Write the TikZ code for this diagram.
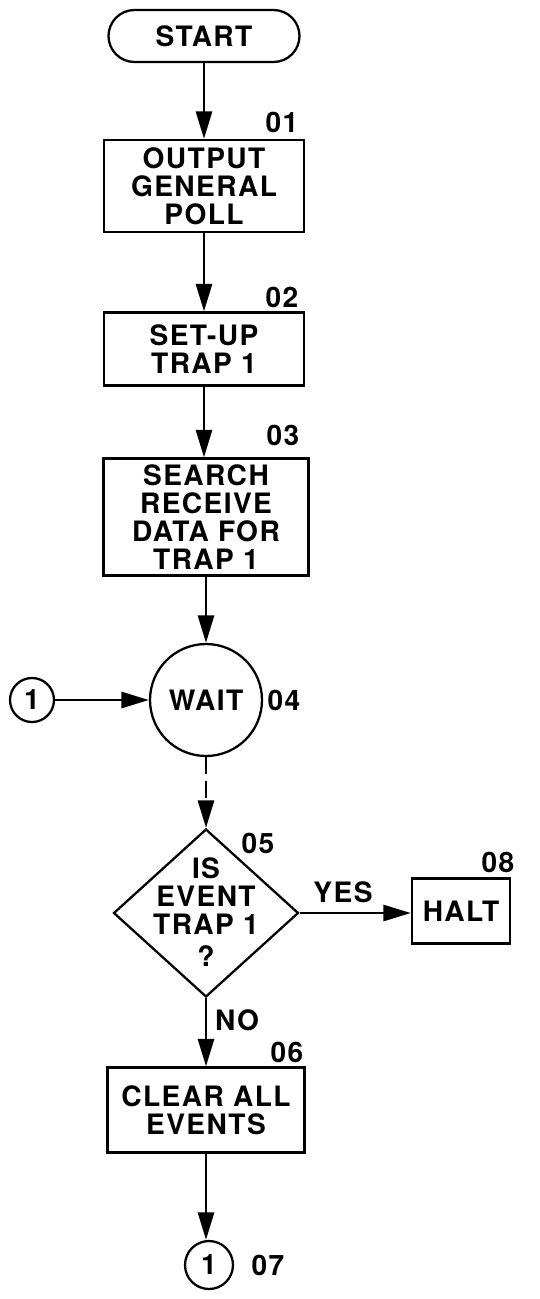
\documentclass[tikz,border=0pt]{standalone}
\usepackage{fontspec}
\setmainfont{TeX Gyre Heros}[LetterSpace=5]
\usepackage{tikz}
\usetikzlibrary{arrows.meta,positioning,shapes.geometric,shapes.misc}
\tikzset{
	chart/.style={font=\bfseries\fontsize{16}{16}\selectfont,text=black},
	procbox/.style={chart,draw,line width=1.3pt,rectangle,align=center,inner sep=0pt},
	termbox/.style={chart,draw,line width=1.3pt,rounded rectangle,inner sep=0pt},
	joinpt/.style={chart,draw,line width=1.3pt,circle,inner sep=0pt},
	decision/.style={draw,line width=1.3pt,diamond,inner sep=0pt},
	stepno/.style={chart,inner sep=0pt},
	flow/.style={line width=1.6pt,-{Triangle[length=0.55cm,width=0.32cm]}}
}
\begin{document}
\begin{tikzpicture}[x=0.02cm,y=-0.02cm]
	\useasboundingbox (0,0) rectangle (539,1299);
	\node[termbox,minimum width=3.82cm,minimum height=1.04cm] (start) at (204,36) {START};
	\node[procbox,minimum width=4cm,minimum height=1.84cm] (p01) at (204,186) {OUTPUT\\GENERAL\\POLL};
	\node[procbox,minimum width=4cm,minimum height=1.46cm] (p02) at (204,349) {SET-UP\\TRAP 1};
	\node[procbox,minimum width=4.1cm,minimum height=2.34cm] (p03) at (206,517) {SEARCH\\RECEIVE\\DATA FOR\\TRAP 1};
	\node[joinpt,minimum size=2.24cm] (wait) at (206,700) {WAIT};
	\node[joinpt,minimum size=0.88cm] (c1) at (32,700) {1};
	\node[decision,minimum width=3.7cm,minimum height=3.36cm] (dec) at (206,913) {};
	\node[chart,align=center] (dectext) at (206,912) {IS\\EVENT\\TRAP 1\\[2pt]?};
	\node[procbox,minimum width=1.96cm,minimum height=1.3cm] (halt) at (461,911) {HALT};
	\node[procbox,minimum width=3.94cm,minimum height=1.7cm] (p06) at (206,1110) {CLEAR ALL\\EVENTS};
	\node[joinpt,minimum size=0.96cm] (c7) at (209,1265) {1};

	\node[stepno] (n01) at (282,122) {01};
	\node[stepno] (n02) at (282,297) {02};
	\node[stepno] (n03) at (283,435) {03};
	\node[stepno] (n04) at (284,700) {04};
	\node[stepno] (n05) at (258,843) {05};
	\node[stepno] (n08) at (498,862) {08};
	\node[stepno] (n06) at (287,1052) {06};
	\node[stepno] (n07) at (268,1265) {07};
	\node[stepno] (yes) at (343,892) {YES};
	\node[stepno] (no) at (237,1020) {NO};

	\draw[flow] (start.south) -- (start.south |- p01.north);
	\draw[flow] (p01.south) -- (p01.south |- p02.north);
	\draw[flow] (p02.south) -- (p02.south |- p03.north);
	\draw[flow] (p03.south) -- (p03.south |- wait.north);
	\draw[flow] (c1) -- (wait);
	\draw[flow,dash pattern=on 0.34cm off 0.14cm] (wait.south) -- (dec.north);
	\draw[flow] (dec.east) -- (dec.east -| halt.west);
	\draw[flow] (dec.south) -- (dec.south |- p06.north);
	\draw[flow] (p06.south) -- (p06.south |- c7.north);
\end{tikzpicture}
\end{document}
